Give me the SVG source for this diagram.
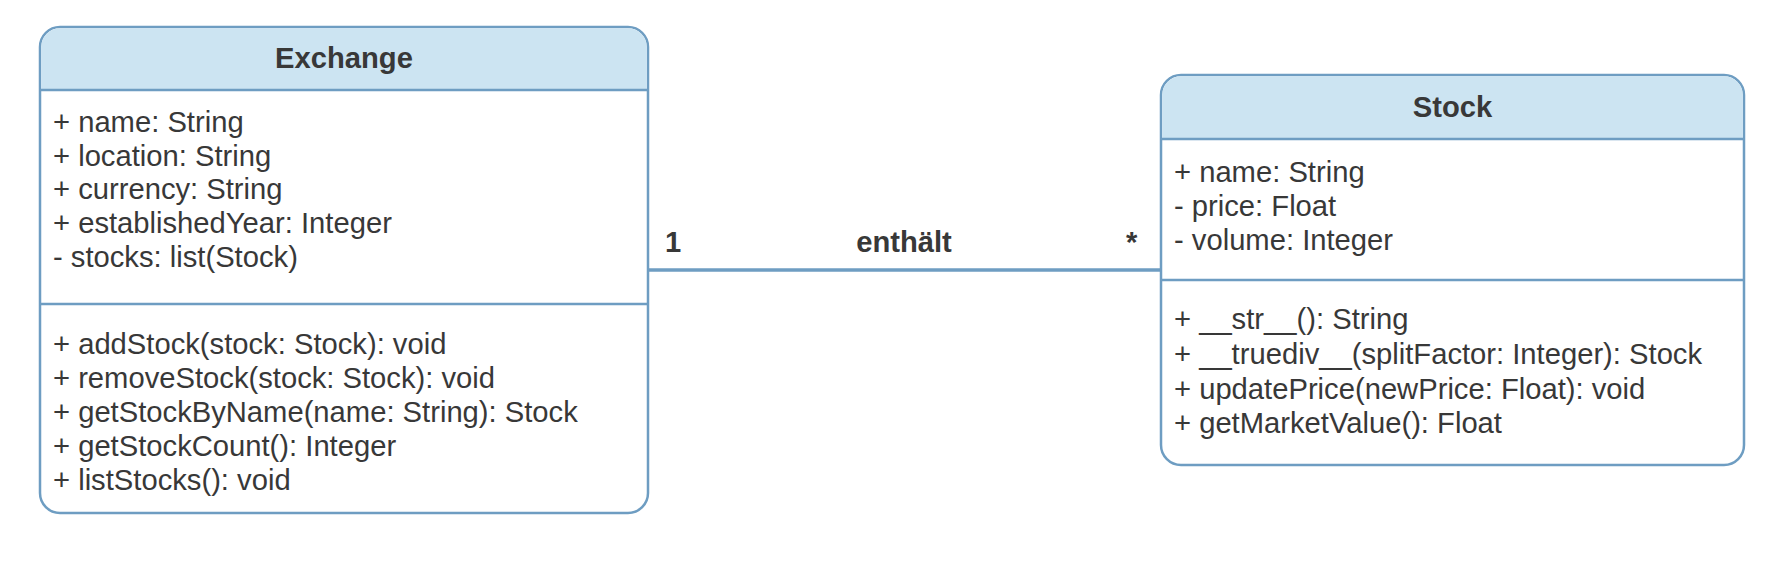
<svg xmlns="http://www.w3.org/2000/svg" width="1788" height="574" viewBox="0 0 1788 574">
<style>
.box{fill:#ffffff;stroke:#6e9dc2;stroke-width:2.5}
.hdr{fill:#cce4f2;stroke:none}
.ln{stroke:#6e9dc2;stroke-width:2.5;fill:none}
.conn{stroke:#6e9dc2;stroke-width:3.5;fill:none}
text{font-family:"Liberation Sans",Arial,Helvetica,sans-serif;font-size:29.2px;fill:#383838}
.t{font-weight:bold;text-anchor:middle}
.b{font-weight:bold}
</style>
<rect width="1788" height="574" fill="#ffffff"/>
<g id="connectors">
<line class="conn" x1="648" y1="270" x2="1161" y2="270"/>
<text class="b" x="665" y="252">1</text>
<text class="t" x="904" y="252">enthält</text>
<text class="b" x="1126" y="252">*</text>
</g>
<g id="Exchange">
<rect class="box" x="40" y="27" width="608" height="486" rx="20" ry="20"/>
<path class="hdr" d="M41.25,90 V47 A18.75,18.75 0 0 1 60,28.25 H628 A18.75,18.75 0 0 1 646.75,47 V90 Z"/>
<line class="ln" x1="40" y1="90" x2="648" y2="90"/>
<line class="ln" x1="40" y1="304" x2="648" y2="304"/>
<text class="t" x="344" y="68">Exchange</text>
<text x="53" y="132">+ name: String</text>
<text x="53" y="166">+ location: String</text>
<text x="53" y="199">+ currency: String</text>
<text x="53" y="233">+ establishedYear: Integer</text>
<text x="53" y="267">- stocks: list(Stock)</text>
<text x="53" y="354">+ addStock(stock: Stock): void</text>
<text x="53" y="388">+ removeStock(stock: Stock): void</text>
<text x="53" y="422">+ getStockByName(name: String): Stock</text>
<text x="53" y="456">+ getStockCount(): Integer</text>
<text x="53" y="490">+ listStocks(): void</text>
</g>
<g id="Stock">
<rect class="box" x="1161" y="75" width="583" height="390" rx="20" ry="20"/>
<path class="hdr" d="M1162.25,139 V95 A18.75,18.75 0 0 1 1181,76.25 H1724 A18.75,18.75 0 0 1 1742.75,95 V139 Z"/>
<line class="ln" x1="1161" y1="139" x2="1744" y2="139"/>
<line class="ln" x1="1161" y1="280" x2="1744" y2="280"/>
<text class="t" x="1452.5" y="117">Stock</text>
<text x="1174" y="182">+ name: String</text>
<text x="1174" y="216">- price: Float</text>
<text x="1174" y="250">- volume: Integer</text>
<text x="1174" y="329">+ __str__(): String</text>
<text x="1174" y="364">+ __truediv__(splitFactor: Integer): Stock</text>
<text x="1174" y="399">+ updatePrice(newPrice: Float): void</text>
<text x="1174" y="433">+ getMarketValue(): Float</text>
</g>
</svg>
